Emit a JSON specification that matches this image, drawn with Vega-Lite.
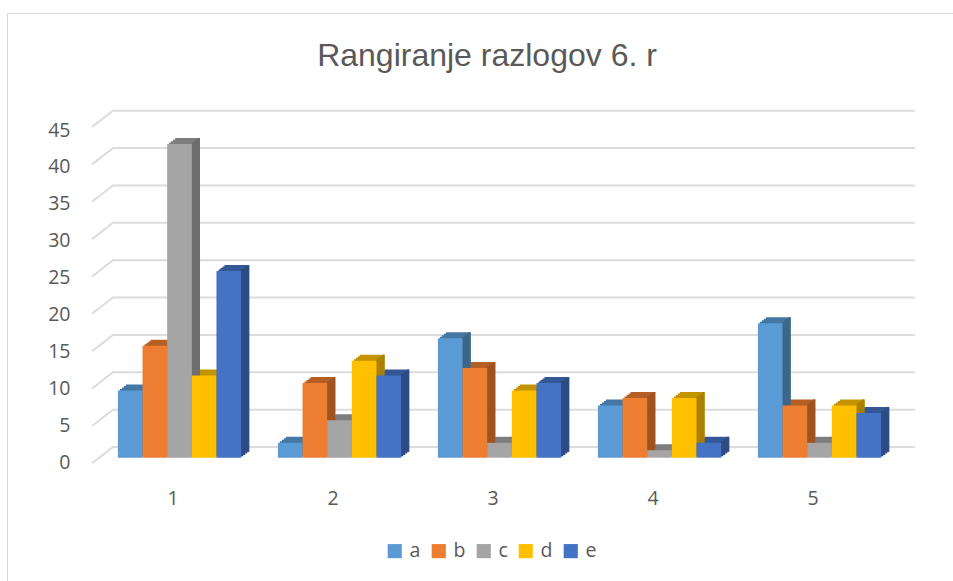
{"$schema":"https://vega.github.io/schema/vega-lite/v6.json","width":946,"height":568,"padding":{"left":7,"top":13,"right":0,"bottom":0},"autosize":{"type":"none"},"background":"white","view":{"stroke":"#d9d9d9","strokeWidth":1},
"title":{"text":"Rangiranje razlogov 6. r","font":"Liberation Sans","fontSize":32,"fontWeight":"normal","color":"#595959","anchor":"middle","frame":"group","baseline":"alphabetic","offset":-85,"dx":7},
"datasets":{"bars":[
{"group":"1","series":"a","value":9},{"group":"1","series":"b","value":15},{"group":"1","series":"c","value":42},{"group":"1","series":"d","value":11},{"group":"1","series":"e","value":25},
{"group":"2","series":"a","value":2},{"group":"2","series":"b","value":10},{"group":"2","series":"c","value":5},{"group":"2","series":"d","value":13},{"group":"2","series":"e","value":11},
{"group":"3","series":"a","value":16},{"group":"3","series":"b","value":12},{"group":"3","series":"c","value":2},{"group":"3","series":"d","value":9},{"group":"3","series":"e","value":10},
{"group":"4","series":"a","value":7},{"group":"4","series":"b","value":8},{"group":"4","series":"c","value":1},{"group":"4","series":"d","value":8},{"group":"4","series":"e","value":2},
{"group":"5","series":"a","value":18},{"group":"5","series":"b","value":7},{"group":"5","series":"c","value":2},{"group":"5","series":"d","value":7},{"group":"5","series":"e","value":6}],
"grid":[
{"tick":0,"depth":0,"level":-2.18},{"tick":0,"depth":1,"level":0},{"tick":0,"depth":2,"level":0},
{"tick":5,"depth":0,"level":2.82},{"tick":5,"depth":1,"level":5},{"tick":5,"depth":2,"level":5},
{"tick":10,"depth":0,"level":7.82},{"tick":10,"depth":1,"level":10},{"tick":10,"depth":2,"level":10},
{"tick":15,"depth":0,"level":12.82},{"tick":15,"depth":1,"level":15},{"tick":15,"depth":2,"level":15},
{"tick":20,"depth":0,"level":17.82},{"tick":20,"depth":1,"level":20},{"tick":20,"depth":2,"level":20},
{"tick":25,"depth":0,"level":22.82},{"tick":25,"depth":1,"level":25},{"tick":25,"depth":2,"level":25},
{"tick":30,"depth":0,"level":27.82},{"tick":30,"depth":1,"level":30},{"tick":30,"depth":2,"level":30},
{"tick":35,"depth":0,"level":32.82},{"tick":35,"depth":1,"level":35},{"tick":35,"depth":2,"level":35},
{"tick":40,"depth":0,"level":37.82},{"tick":40,"depth":1,"level":40},{"tick":40,"depth":2,"level":40},
{"tick":45,"depth":0,"level":42.82},{"tick":45,"depth":1,"level":45},{"tick":45,"depth":2,"level":45}]},
"layer":[
{"data":{"name":"grid"},"mark":{"type":"line","color":"#dcdcdc","strokeWidth":2},"encoding":{"x":{"field":"depth","type":"quantitative","axis":null,"scale":{"domain":[0,1,2],"range":[85,106,908],"nice":false,"zero":false}},"y":{"field":"level","type":"quantitative","axis":null,"scale":{"domain":[0,45],"range":[434,97.7],"nice":false}},"detail":{"field":"tick"}}},
{"data":{"name":"grid"},"mark":{"type":"point","opacity":0},"encoding":{"y":{"field":"tick","type":"quantitative","scale":{"domain":[0,45],"range":[449,117],"nice":false},"axis":{"title":null,"values":[0,5,10,15,20,25,30,35,40,45],"domain":false,"ticks":false,"grid":false,"offset":-63,"labelPadding":0,"labelFont":"Open Sans","labelFontSize":19.5,"labelColor":"#595959"}}}},
{"data":{"name":"bars"},"mark":{"type":"bar"},"encoding":{"x":{"field":"group","type":"nominal","axis":null,"scale":{"range":[100.5,900.5],"paddingInner":0.23,"paddingOuter":0.115}},"xOffset":{"field":"series","scale":{"range":[0,123.2]}},"y":{"field":"value","type":"quantitative","stack":null,"axis":null,"scale":{"domain":[0,45],"range":[438.7,102.7],"nice":false}},"color":{"field":"series","legend":null,"scale":{"domain":["a","b","c","d","e"],"range":["#4677a3","#b55f25","#7e7e7e","#c39300","#345796"]}}}},
{"data":{"name":"bars"},"mark":{"type":"bar"},"encoding":{"x":{"field":"group","type":"nominal","axis":null,"scale":{"range":[98.5,898.5],"paddingInner":0.23,"paddingOuter":0.115}},"xOffset":{"field":"series","scale":{"range":[0,123.2]}},"y":{"field":"value","type":"quantitative","stack":null,"axis":null,"scale":{"domain":[0,45],"range":[440.2,104.2],"nice":false}},"color":{"field":"series","legend":null,"scale":{"domain":["a","b","c","d","e"],"range":["#4677a3","#b55f25","#7e7e7e","#c39300","#345796"]}}}},
{"data":{"name":"bars"},"mark":{"type":"bar"},"encoding":{"x":{"field":"group","type":"nominal","axis":null,"scale":{"range":[96.5,896.5],"paddingInner":0.23,"paddingOuter":0.115}},"xOffset":{"field":"series","scale":{"range":[0,123.2]}},"y":{"field":"value","type":"quantitative","stack":null,"axis":null,"scale":{"domain":[0,45],"range":[441.7,105.7],"nice":false}},"color":{"field":"series","legend":null,"scale":{"domain":["a","b","c","d","e"],"range":["#4677a3","#b55f25","#7e7e7e","#c39300","#345796"]}}}},
{"data":{"name":"bars"},"mark":{"type":"bar"},"encoding":{"x":{"field":"group","type":"nominal","axis":null,"scale":{"range":[94.5,894.5],"paddingInner":0.23,"paddingOuter":0.115}},"xOffset":{"field":"series","scale":{"range":[0,123.2]}},"y":{"field":"value","type":"quantitative","stack":null,"axis":null,"scale":{"domain":[0,45],"range":[443.2,107.2],"nice":false}},"color":{"field":"series","legend":null,"scale":{"domain":["a","b","c","d","e"],"range":["#4677a3","#b55f25","#7e7e7e","#c39300","#345796"]}}}},
{"data":{"name":"bars"},"mark":{"type":"bar","width":2.4},"encoding":{"x":{"field":"group","type":"nominal","axis":null,"scale":{"range":[105.82,905.82],"paddingInner":0.23,"paddingOuter":0.115}},"xOffset":{"field":"series","scale":{"range":[0,123.2]}},"y":{"field":"value","type":"quantitative","stack":null,"axis":null,"scale":{"domain":[0,45],"range":[443.2,107.2],"nice":false}},"color":{"field":"series","legend":null,"scale":{"domain":["a","b","c","d","e"],"range":["#3c6689","#9e5320","#6e6e6e","#aa8000","#2d4c83"]}}}},
{"data":{"name":"bars"},"mark":{"type":"bar","width":2.4},"encoding":{"x":{"field":"group","type":"nominal","axis":null,"scale":{"range":[107.82,907.82],"paddingInner":0.23,"paddingOuter":0.115}},"xOffset":{"field":"series","scale":{"range":[0,123.2]}},"y":{"field":"value","type":"quantitative","stack":null,"axis":null,"scale":{"domain":[0,45],"range":[441.7,105.7],"nice":false}},"color":{"field":"series","legend":null,"scale":{"domain":["a","b","c","d","e"],"range":["#3c6689","#9e5320","#6e6e6e","#aa8000","#2d4c83"]}}}},
{"data":{"name":"bars"},"mark":{"type":"bar","width":2.4},"encoding":{"x":{"field":"group","type":"nominal","axis":null,"scale":{"range":[109.82,909.82],"paddingInner":0.23,"paddingOuter":0.115}},"xOffset":{"field":"series","scale":{"range":[0,123.2]}},"y":{"field":"value","type":"quantitative","stack":null,"axis":null,"scale":{"domain":[0,45],"range":[440.2,104.2],"nice":false}},"color":{"field":"series","legend":null,"scale":{"domain":["a","b","c","d","e"],"range":["#3c6689","#9e5320","#6e6e6e","#aa8000","#2d4c83"]}}}},
{"data":{"name":"bars"},"mark":{"type":"bar","width":2.4},"encoding":{"x":{"field":"group","type":"nominal","axis":null,"scale":{"range":[111.82,911.82],"paddingInner":0.23,"paddingOuter":0.115}},"xOffset":{"field":"series","scale":{"range":[0,123.2]}},"y":{"field":"value","type":"quantitative","stack":null,"axis":null,"scale":{"domain":[0,45],"range":[438.7,102.7],"nice":false}},"color":{"field":"series","legend":null,"scale":{"domain":["a","b","c","d","e"],"range":["#3c6689","#9e5320","#6e6e6e","#aa8000","#2d4c83"]}}}},
{"data":{"name":"bars"},"mark":{"type":"bar"},"encoding":{"x":{"field":"group","type":"nominal","scale":{"range":[92.5,892.5],"paddingInner":0.23,"paddingOuter":0.115},"axis":{"title":null,"labelAngle":0,"domain":false,"ticks":false,"grid":false,"offset":-92,"labelPadding":0,"labelOffset":-6.5,"labelFont":"Open Sans","labelFontSize":19.5,"labelColor":"#595959"}},"xOffset":{"field":"series","scale":{"range":[0,123.2]}},"y":{"field":"value","type":"quantitative","stack":null,"axis":null,"scale":{"domain":[0,45],"range":[444.7,108.7],"nice":false}},"color":{"field":"series","scale":{"domain":["a","b","c","d","e"],"range":["#5b9bd5","#ed7d31","#a5a5a5","#ffc000","#4472c4"]},"legend":{"title":null,"orient":"none","legendX":378,"legendY":528,"direction":"horizontal","columns":5,"symbolType":"square","symbolSize":200,"symbolStrokeWidth":0,"labelFont":"Open Sans","labelFontSize":19.5,"labelColor":"#595959","labelOffset":5,"columnPadding":8}}}}
],
"resolve":{"scale":{"x":"independent","y":"independent","color":"independent"}}}
